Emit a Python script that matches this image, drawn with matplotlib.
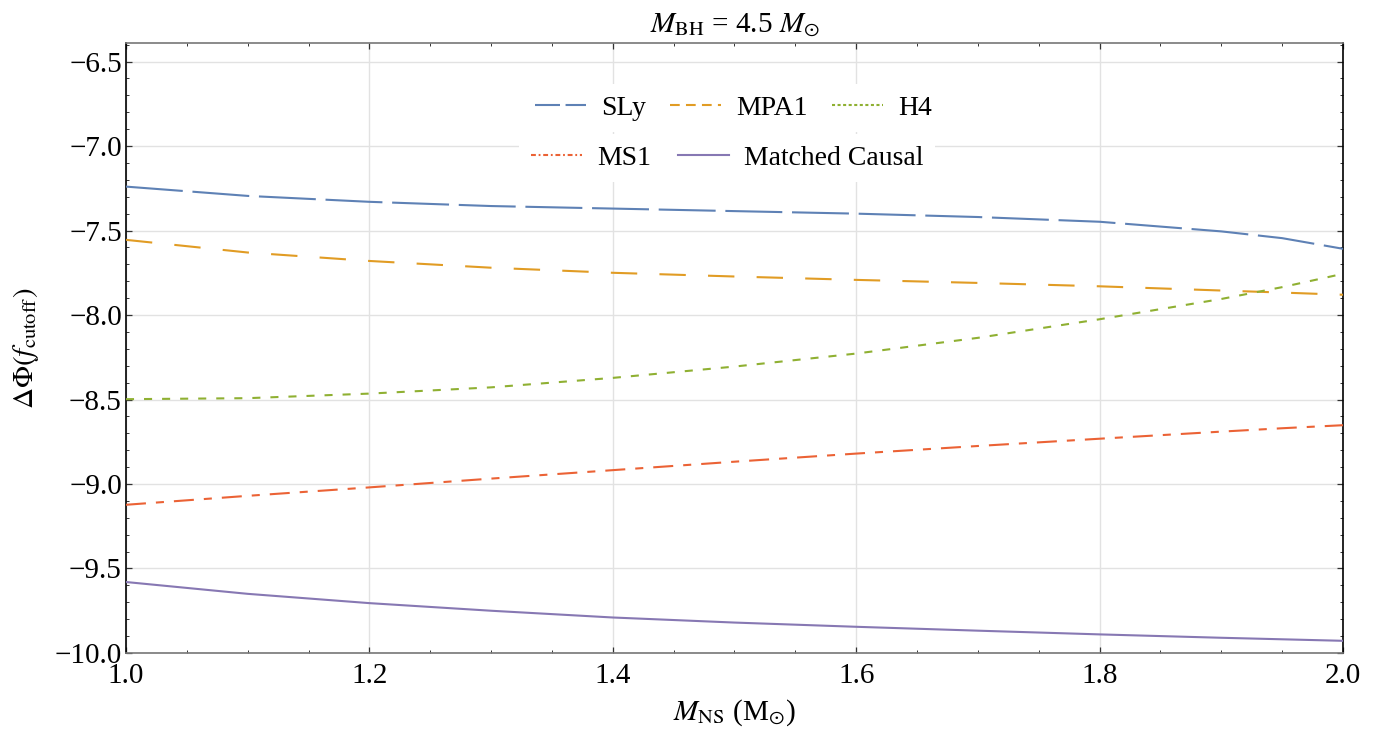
import numpy as np
import matplotlib
matplotlib.use('Agg')
import matplotlib.pyplot as plt
from matplotlib.lines import Line2D
from matplotlib.ticker import MultipleLocator

# Data
m_ns = [1.0, 1.1, 1.2, 1.3, 1.4, 1.5, 1.6, 1.7, 1.8, 1.9, 1.95, 2.0]
sly = [-7.240, -7.295, -7.330, -7.355, -7.370, -7.385, -7.400, -7.420, -7.448, -7.505, -7.545, -7.608]
mpa1 = [-7.555, -7.630, -7.680, -7.720, -7.750, -7.772, -7.792, -7.810, -7.830, -7.855, -7.867, -7.880]
h4 = [-8.498, -8.492, -8.465, -8.428, -8.372, -8.305, -8.228, -8.135, -8.025, -7.905, -7.835, -7.756]
ms1 = [-9.123, -9.070, -9.020, -8.968, -8.918, -8.868, -8.820, -8.775, -8.732, -8.690, -8.670, -8.652]
matched = [-9.580, -9.650, -9.705, -9.750, -9.790, -9.820, -9.845, -9.868, -9.890, -9.910, -9.919, -9.928]

labels = ['SLy', 'MPA1', 'H4', 'MS1', 'Matched Causal']
colors = ['#5E81B5', '#E19C24', '#8FB032', '#EB6235', '#8778B3']

plt.rcParams['font.family'] = ['Liberation Serif', 'DejaVu Serif']
plt.rcParams['mathtext.fontset'] = 'stix'
plt.rcParams['lines.scale_dashes'] = False

fig = plt.figure(figsize=(13.92, 7.36), dpi=100)
ax = fig.add_axes([0.0905, 0.1128, 0.8743, 0.8288])

# dash patterns in points (plot) and shorter ones for the legend
plot_dashes = [(0, (41, 7)), (0, (19, 16)), (0, (5.8, 7.2)), (0, (14.4, 7.2, 5.8, 7.2)), None]
leg_dashes = [(0, (18, 4)), (0, (7, 4.5)), (0, (2.2, 1.8)), (0, (3.5, 2, 1.3, 2)), None]

series = [sly, mpa1, h4, ms1, matched]
for vals, c, ls in zip(series, colors, plot_dashes):
    ax.plot(m_ns, vals, color=c, lw=1.5, linestyle=ls if ls else '-', zorder=3)

ax.set_xlim(1.0, 2.0)
ax.set_ylim(-10.0, -6.39)
ax.xaxis.set_major_locator(MultipleLocator(0.2))
ax.xaxis.set_minor_locator(MultipleLocator(0.05))
ax.yaxis.set_major_locator(MultipleLocator(0.5))
ax.yaxis.set_minor_locator(MultipleLocator(0.1))
ax.xaxis.set_major_formatter(matplotlib.ticker.FormatStrFormatter('%.1f'))
ax.yaxis.set_major_formatter(matplotlib.ticker.FuncFormatter(lambda v, p: f'{v:.1f}'.replace('-', '\u2212')))

ax.grid(True, which='major', color='#e2e2e2', lw=1.0, zorder=0)
ax.tick_params(which='both', direction='in', top=True, right=True, labelsize=21, color='#333333')
ax.tick_params(which='major', length=4.5, width=0.9)
ax.tick_params(which='minor', length=2.5, width=0.7)
ax.tick_params(axis='x', pad=7)
ax.tick_params(axis='y', pad=3)

ax.spines['left'].set_color('black')
ax.spines['right'].set_color('black')
ax.spines['top'].set_color('#777777')
ax.spines['bottom'].set_color('#777777')
for s in ax.spines.values():
    s.set_linewidth(1.2)

ax.set_title(r'$M_{\mathrm{BH}}$ = 4.5 $M_{\odot}$', fontsize=21, pad=8)
ax.set_xlabel(r'$M_{\mathrm{NS}}$ (M$_{\odot}$)', fontsize=21, labelpad=6)
ax.set_ylabel(r'$\Delta\Phi(f_{\mathrm{cutoff}})$', fontsize=21, labelpad=10)

# legend in two rows, like the original
handles = [Line2D([], [], color=c, lw=1.5, linestyle=ls if ls else '-') for c, ls in zip(colors, leg_dashes)]
leg_kw = dict(loc='center', fontsize=20, handlelength=1.84, handletextpad=0.55,
              frameon=True, facecolor='white', edgecolor='none', framealpha=1.0, fancybox=False)
leg1 = ax.legend(handles[:3], labels[:3], ncol=3, columnspacing=0.86,
                 bbox_to_anchor=(0.499, 0.893), **leg_kw)
ax.add_artist(leg1)
leg2 = ax.legend(handles[3:], labels[3:], ncol=2, columnspacing=0.97,
                 bbox_to_anchor=(0.494, 0.8115), **leg_kw)

fig.savefig('out.png', dpi=100)
